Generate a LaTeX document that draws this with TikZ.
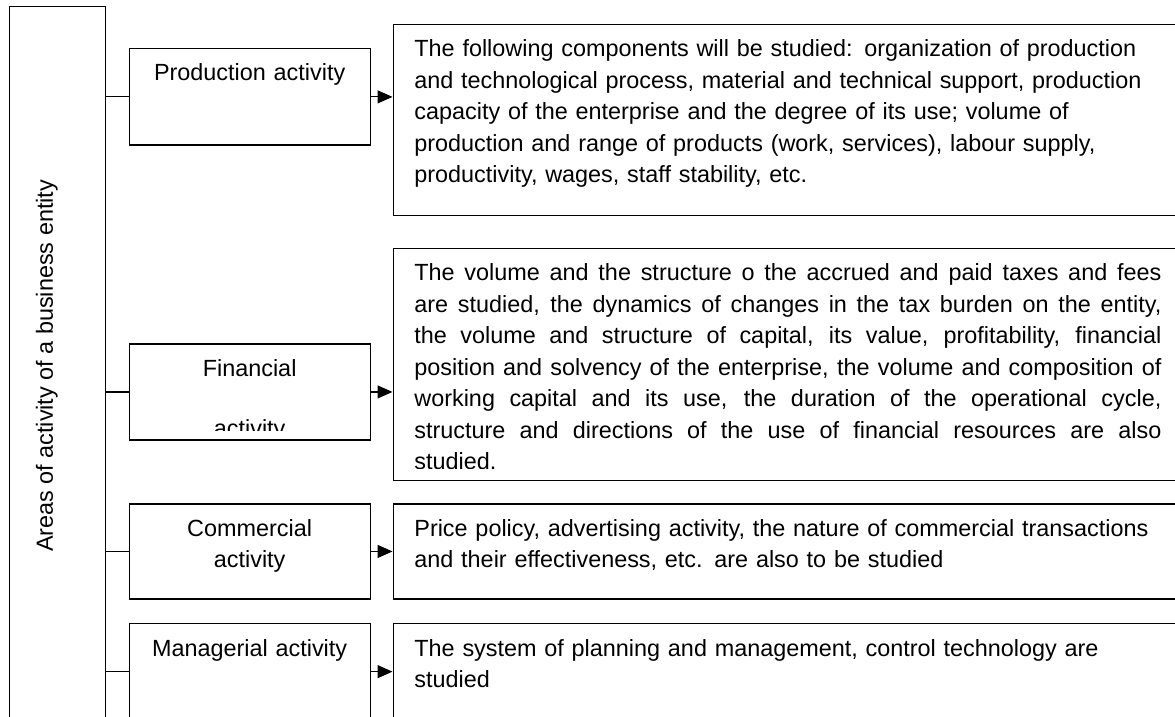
\documentclass[tikz,border=0pt]{standalone}
\usepackage{fontspec}
\setmainfont{Liberation Sans}
\usepackage{tikz}
\usetikzlibrary{arrows.meta, positioning}
\newcommand{\boxfont}{\fontsize{11.7}{15.75}\selectfont}
\tikzset{areabox/.style={draw=black, line width=0.65pt, inner sep=0pt, anchor=north west},activitybox/.style={areabox, minimum width=120.5pt, minimum height=48pt},textbox/.style={areabox, minimum width=400pt}}

\begin{document}
\begin{tikzpicture}[
        x=1pt, y=-1pt,
        activitytext/.style={anchor=base, font=\boxfont, align=center, text width=118pt, inner sep=0pt},
        studytext/.style={anchor=base west, font=\boxfont, text width=373.5pt, inner sep=0pt},
        linkline/.style={draw=black, line width=0.6pt}
    ]
        \useasboundingbox (0,0) rectangle (587.5,358.5);
        % Areas
        \node[areabox, minimum width=48pt, minimum height=367pt] (areas) at (4.5,3) {};
        \node[rotate=90, anchor=base, font=\boxfont, inner sep=0pt] (areas-title) at (26.5,183) {Areas of activity of a business entity};
        % Activities
        \node[activitybox, minimum height=48.25pt] (prod) at (64.25,24) {};
        \node[activitybox] (fin) at (64.25,171.65) {};
        \node[activitybox, minimum height=47.5pt] (comm) at (64.25,251.65) {};
        \node[activitybox] (man) at (64.25,311.5) {};
        \node[activitytext] (prod-title) at ([yshift=-16.5pt]prod.north) {Production activity};
        \begin{scope}
            \clip (fin.north west) rectangle ([yshift=5.25pt]fin.south east);
            \node[activitytext] (fin-title) at ([yshift=-16.5pt]fin.north) {Financial\\[14.5pt]activity};
        \end{scope}
        \node[activitytext] (comm-title) at ([yshift=-16.5pt]comm.north) {Commercial\\activity};
        \node[activitytext] (man-title) at ([yshift=-16.5pt]man.north) {Managerial activity};
        % What is studied
        \node[textbox, minimum height=95.5pt] (prod-text) at (196.25,12) {};
        \node[textbox, minimum height=115.75pt] (fin-text) at (196.25,124) {};
        \node[textbox, minimum height=47.5pt] (comm-text) at (196.25,251.65) {};
        \node[textbox, minimum height=90pt] (man-text) at (196.25,311.5) {};
        \node[studytext, align=left, text width=385pt] (prod-note) at ([xshift=10.75pt, yshift=-16.5pt]prod-text.north west) {The following components will be studied: organization of production\\
            and technological process, material and technical support, production\\
            capacity of the enterprise and the degree of its use; volume of\\
            production and range of products (work, services), labour supply,\\
            productivity, wages, staff stability, etc.};
        \begin{scope}
            \clip (fin-text.north west) rectangle ([yshift=6.25pt]fin-text.south east);
            \node[studytext, align=justify] (fin-note) at ([xshift=10.75pt, yshift=-16.5pt]fin-text.north west) {The volume and the structure o the accrued and paid taxes and fees\linebreak
                are studied, the dynamics of changes in the tax burden on the entity,\linebreak
                the volume and structure of capital, its value, profitability, financial\linebreak
                position and solvency of the enterprise, the volume and composition of\linebreak
                working capital and its use, the duration of the operational cycle,\linebreak
                structure and directions of the use of financial resources are also\linebreak
                studied.};
        \end{scope}
        \node[studytext, align=left, text width=385pt] (comm-note) at ([xshift=10.75pt, yshift=-16.5pt]comm-text.north west) {Price policy, advertising activity, the nature of commercial transactions\\
            and their effectiveness, etc. are also to be studied};
        \node[studytext, align=left, text width=385pt] (man-note) at ([xshift=10.75pt, yshift=-16.5pt]man-text.north west) {The system of planning and management, control technology are\\
            studied};
        % Links
        \foreach \act in {prod, fin, comm, man} {
            \draw[linkline] (areas.east |- \act.west) -- (\act.west);
            \draw[linkline, -{Triangle[length=7.5pt, width=6.5pt]}] (\act.east) -- (\act.east -| \act-text.west);
        }
    \end{tikzpicture}
\end{document}
